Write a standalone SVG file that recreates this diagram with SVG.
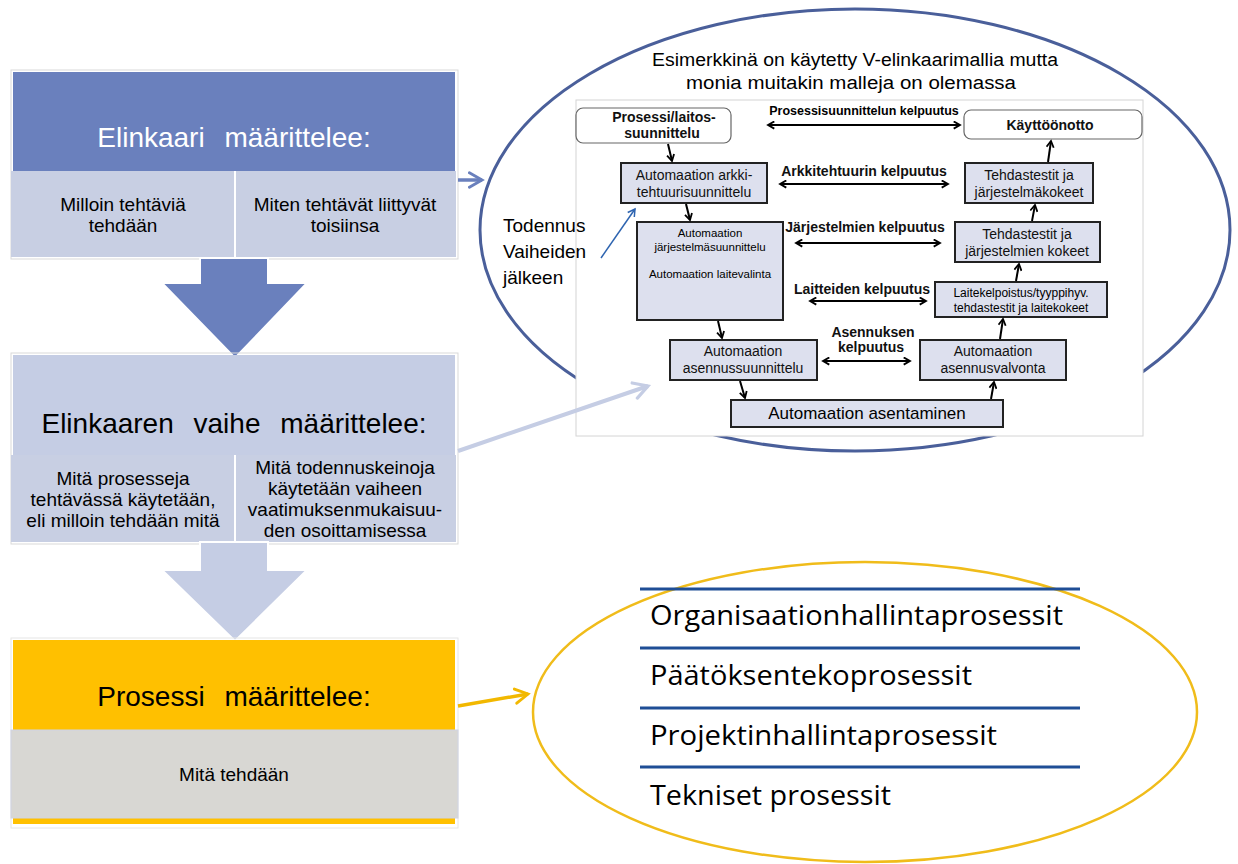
<svg xmlns="http://www.w3.org/2000/svg" width="1238" height="864" viewBox="0 0 1238 864">
  <defs>
    <marker id="ah" viewBox="0 0 10 10" refX="8" refY="5" markerWidth="9" markerHeight="9" markerUnits="userSpaceOnUse" orient="auto-start-reverse">
      <path d="M1,1 L8,5 L1,9" fill="none" stroke="#000" stroke-width="2"/>
    </marker>
    <marker id="ahBlue" viewBox="0 0 10 10" refX="8" refY="5" markerWidth="10" markerHeight="10" markerUnits="userSpaceOnUse" orient="auto">
      <path d="M1,1 L8,5 L1,9" fill="none" stroke="#2e64b0" stroke-width="1.5"/>
    </marker>
    <marker id="ahBig1" viewBox="0 0 10 10" refX="8" refY="5" markerWidth="18" markerHeight="18" markerUnits="userSpaceOnUse" orient="auto">
      <path d="M1,1 L8,5 L1,9" fill="none" stroke="#6a80bd" stroke-width="1.6" stroke-linecap="round"/>
    </marker>
    <marker id="ahBig2" viewBox="0 0 10 10" refX="8" refY="5" markerWidth="20" markerHeight="20" markerUnits="userSpaceOnUse" orient="auto">
      <path d="M1,1 L8,5 L1,9" fill="none" stroke="#c5cde4" stroke-width="1.6" stroke-linecap="round"/>
    </marker>
    <marker id="ahBig3" viewBox="0 0 10 10" refX="8" refY="5" markerWidth="18" markerHeight="18" markerUnits="userSpaceOnUse" orient="auto">
      <path d="M1,1 L8,5 L1,9" fill="none" stroke="#f2b800" stroke-width="1.6" stroke-linecap="round"/>
    </marker>
  </defs>
  <style>
    text { font-family: "Liberation Sans", Arial, sans-serif; }
    .hd { font-size: 28px; text-anchor: middle; word-spacing: 12px; }
    .sub { font-size: 19px; text-anchor: middle; fill: #000; }
    .box { fill: #dde0ee; stroke: #222; stroke-width: 2; }
    .rbox { fill: #fff; stroke: #666; stroke-width: 1.2; }
    .bt { font-size: 14px; text-anchor: middle; fill: #111; }
    .lbl { font-size: 14px; font-weight: bold; text-anchor: middle; fill: #111; }
    .con { stroke: #000; stroke-width: 2; fill: none; }
    .proc { font-family: "Open Sans", "Noto Sans", sans-serif; font-size: 28px; fill: #000; }
    .sep { stroke: #1f4e96; stroke-width: 3; }
  </style>
  <rect width="1238" height="864" fill="#fff"/>

  <!-- Level 1: life cycle -->
  <g id="elinkaari">
    <rect x="11" y="70" width="447" height="189" fill="none" stroke="#d9d9d9"/>
    <rect x="13" y="72" width="442" height="99" fill="#6a80bd"/>
    <text class="hd" x="234" y="147" fill="#fff">Elinkaari määrittelee:</text>
    <rect x="11" y="171" width="223" height="86" fill="#c8cfe3"/>
    <rect x="236" y="171" width="220" height="86" fill="#c8cfe3"/>
    <text class="sub" x="123" y="211">Milloin tehtäviä</text>
    <text class="sub" x="123" y="232">tehdään</text>
    <text class="sub" x="345" y="211">Miten tehtävät liittyvät</text>
    <text class="sub" x="345" y="232">toisiinsa</text>
  </g>

  <g id="down1">
    <path d="M200,258 L268,258 L268,283 L307,283 L235,358 L162,283 L200,283 Z" fill="#6a80bd" stroke="#fff" stroke-width="2"/>
  </g>

  <!-- Level 2: life cycle phase -->
  <g id="vaihe">
    <rect x="11" y="353" width="447" height="191" fill="none" stroke="#d9d9d9"/>
    <rect x="13" y="355" width="442" height="100" fill="#c5cde4"/>
    <text class="hd" x="234" y="433" fill="#000">Elinkaaren vaihe määrittelee:</text>
    <rect x="11" y="455" width="223" height="87" fill="#c8cfe3"/>
    <rect x="236" y="455" width="220" height="87" fill="#c8cfe3"/>
    <text class="sub" x="123" y="485">Mitä prosesseja</text>
    <text class="sub" x="123" y="506">tehtävässä käytetään,</text>
    <text class="sub" x="123" y="527">eli milloin  tehdään mitä</text>
    <text class="sub" x="345" y="474">Mitä todennuskeinoja</text>
    <text class="sub" x="345" y="495">käytetään  vaiheen</text>
    <text class="sub" x="345" y="516">vaatimuksenmukaisuu-</text>
    <text class="sub" x="345" y="537">den  osoittamisessa</text>
  </g>

  <g id="down2">
    <path d="M200,542 L268,542 L268,570 L307,570 L235,641 L162,570 L200,570 Z" fill="#c5cde4" stroke="#fff" stroke-width="2"/>
  </g>

  <!-- Level 3: process -->
  <g id="prosessi">
    <rect x="11" y="638" width="447" height="190" fill="none" stroke="#e6e6e6"/>
    <rect x="13" y="640" width="442" height="184" fill="#ffc000"/>
    <text class="hd" x="234" y="706" fill="#000">Prosessi määrittelee:</text>
    <rect x="11" y="730" width="447" height="88" fill="#d8d7d3" stroke="#d0d4e4"/>
    <text x="234" y="781" font-size="19" text-anchor="middle">Mitä tehdään</text>
  </g>

  <!-- V-model ellipse -->
  <g id="v-malli">
    <ellipse cx="855" cy="230" rx="375" ry="221" fill="#fff" stroke="#4a5f9a" stroke-width="3"/>
    <text x="855" y="66" font-size="18" text-anchor="middle" textLength="406" lengthAdjust="spacingAndGlyphs">Esimerkkinä on käytetty V-elinkaarimallia  mutta</text>
    <text x="851" y="89" font-size="18" text-anchor="middle" textLength="330" lengthAdjust="spacingAndGlyphs">monia  muitakin  malleja  on  olemassa</text>
    <rect x="576" y="100" width="567" height="336" fill="#fff" stroke="#d4d4d4"/>
  </g>

  <g id="todennus">
    <text x="503" y="232" font-size="19" font-family="Open Sans, sans-serif">Todennus</text>
    <text x="503" y="258" font-size="19" font-family="Open Sans, sans-serif">Vaiheiden</text>
    <text x="503" y="284" font-size="19" font-family="Open Sans, sans-serif">jälkeen</text>
  </g>

  <g id="prosessisuunnittelu">
    <rect class="rbox" x="576" y="108" width="155" height="35" rx="7"/>
    <text class="lbl" x="664" y="122">Prosessi/laitos-</text>
    <text class="lbl" x="662" y="138">suunnittelu</text>
  </g>
  <g id="kayttoonotto">
    <rect class="rbox" x="964" y="110" width="178" height="29" rx="7"/>
    <text class="lbl" x="1050" y="130">Käyttöönotto</text>
  </g>
  <g id="arkkitehtuuri">
    <rect class="box" x="621" y="163" width="146" height="40"/>
    <text class="bt" x="694" y="180">Automaation arkki-</text>
    <text class="bt" x="694" y="197">tehtuurisuunnittelu</text>
  </g>
  <g id="jarjestelmakokeet">
    <rect class="box" x="965" y="163" width="128" height="40"/>
    <text class="bt" x="1029" y="180">Tehdastestit ja</text>
    <text class="bt" x="1029" y="197">järjestelmäkokeet</text>
  </g>
  <g id="jarjestelmasuunnittelu">
    <rect class="box" x="637" y="222" width="146" height="98"/>
    <text x="710" y="237" font-size="11.5" text-anchor="middle">Automaation</text>
    <text x="710" y="251" font-size="11.5" text-anchor="middle">järjestelmäsuunnittelu</text>
    <text x="710" y="278" font-size="11.5" text-anchor="middle">Automaation  laitevalinta</text>
  </g>
  <g id="jarjestelmienkokeet">
    <rect class="box" x="955" y="222" width="145" height="40"/>
    <text class="bt" x="1027" y="239">Tehdastestit ja</text>
    <text class="bt" x="1027" y="256">järjestelmien kokeet</text>
  </g>
  <g id="laitekelpoistus">
    <rect class="box" x="935" y="282" width="172" height="35"/>
    <text x="1021" y="297" font-size="12" text-anchor="middle">Laitekelpoistus/tyyppihyv.</text>
    <text x="1021" y="312" font-size="12" text-anchor="middle">tehdastestit  ja  laitekokeet</text>
  </g>
  <g id="asennussuunnittelu">
    <rect class="box" x="670" y="340" width="147" height="40"/>
    <text class="bt" x="743" y="356">Automaation</text>
    <text class="bt" x="743" y="373">asennussuunnittelu</text>
  </g>
  <g id="asennusvalvonta">
    <rect class="box" x="920" y="340" width="146" height="40"/>
    <text class="bt" x="993" y="356">Automaation</text>
    <text class="bt" x="993" y="373">asennusvalvonta</text>
  </g>
  <g id="asentaminen">
    <rect class="box" x="731" y="400" width="272" height="27"/>
    <text x="867" y="419" font-size="17" text-anchor="middle">Automaation  asentaminen</text>
  </g>

  <!-- Qualification labels -->
  <g id="kelpuutukset">
    <text x="864" y="115" font-size="12.5" font-weight="bold" text-anchor="middle">Prosessisuunnittelun kelpuutus</text>
    <text class="lbl" x="864" y="176">Arkkitehtuurin kelpuutus</text>
    <text class="lbl" x="865" y="232">Järjestelmien kelpuutus</text>
    <text class="lbl" x="862" y="294">Laitteiden kelpuutus</text>
    <text class="lbl" x="873" y="337">Asennuksen</text>
    <text class="lbl" x="871" y="352">kelpuutus</text>
  </g>

  <!-- Connectors -->
  <g id="connectors">
    <line class="con" x1="768" y1="125" x2="960" y2="125" marker-start="url(#ah)" marker-end="url(#ah)"/>
    <line class="con" x1="780" y1="184" x2="948" y2="184" marker-start="url(#ah)" marker-end="url(#ah)"/>
    <line class="con" x1="796" y1="243" x2="940" y2="243" marker-start="url(#ah)" marker-end="url(#ah)"/>
    <line class="con" x1="810" y1="301" x2="926" y2="301" marker-start="url(#ah)" marker-end="url(#ah)"/>
    <line class="con" x1="823" y1="361" x2="910" y2="361" marker-start="url(#ah)" marker-end="url(#ah)"/>

    <line class="con" x1="668" y1="144" x2="672" y2="161" marker-end="url(#ah)"/>
    <line class="con" x1="686" y1="204" x2="690" y2="220" marker-end="url(#ah)"/>
    <line class="con" x1="718" y1="321" x2="722" y2="338" marker-end="url(#ah)"/>
    <line class="con" x1="740" y1="381" x2="745" y2="398" marker-end="url(#ah)"/>

    <line class="con" x1="991" y1="399" x2="994" y2="382" marker-end="url(#ah)"/>
    <line class="con" x1="1000" y1="339" x2="1003" y2="319" marker-end="url(#ah)"/>
    <line class="con" x1="1016" y1="281" x2="1019" y2="264" marker-end="url(#ah)"/>
    <line class="con" x1="1032" y1="221" x2="1035" y2="205" marker-end="url(#ah)"/>
    <line class="con" x1="1048" y1="162" x2="1051" y2="141" marker-end="url(#ah)"/>

    <line x1="601" y1="258" x2="635" y2="209" stroke="#2e64b0" stroke-width="1.5" marker-end="url(#ahBlue)"/>

    <line x1="458" y1="180" x2="482" y2="180" stroke="#6a80bd" stroke-width="3.5" marker-end="url(#ahBig1)"/>
    <line x1="458" y1="451" x2="648" y2="386" stroke="#c5cde4" stroke-width="4" marker-end="url(#ahBig2)"/>
    <line x1="458" y1="706" x2="528" y2="694" stroke="#f2b800" stroke-width="3.5" marker-end="url(#ahBig3)"/>
  </g>

  <!-- Process categories -->
  <g id="prosessiryhmat">
    <ellipse cx="865" cy="712" rx="332" ry="150" fill="#fff" stroke="#f0bc1a" stroke-width="2.5"/>
    <line class="sep" x1="640" y1="589" x2="1080" y2="589"/>
    <line class="sep" x1="640" y1="648" x2="1080" y2="648"/>
    <line class="sep" x1="640" y1="708" x2="1080" y2="708"/>
    <line class="sep" x1="640" y1="767" x2="1080" y2="767"/>
    <text class="proc" x="650" y="625" textLength="413" lengthAdjust="spacingAndGlyphs">Organisaationhallintaprosessit</text>
    <text class="proc" x="650" y="685" textLength="322" lengthAdjust="spacingAndGlyphs">Päätöksentekoprosessit</text>
    <text class="proc" x="650" y="745" textLength="347" lengthAdjust="spacingAndGlyphs">Projektinhallintaprosessit</text>
    <text class="proc" x="650" y="805" textLength="241" lengthAdjust="spacingAndGlyphs">Tekniset prosessit</text>
  </g>
</svg>
